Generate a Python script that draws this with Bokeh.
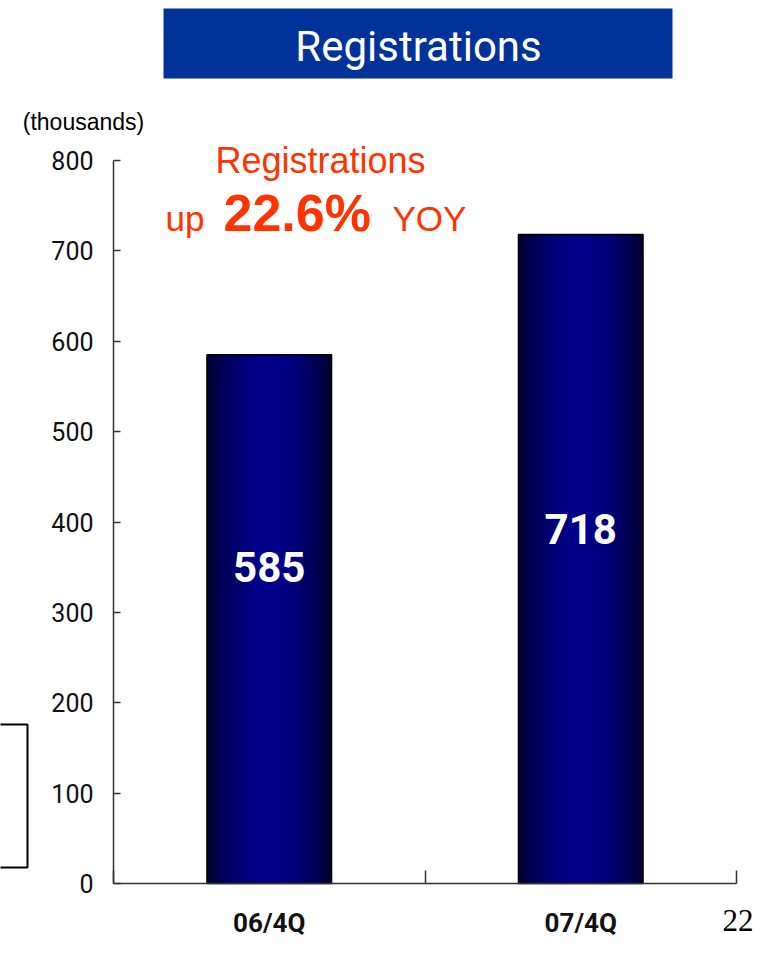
import math
from bokeh.plotting import figure
from bokeh.models import FixedTicker, Label, BoxAnnotation, Range1d
from bokeh.embed import file_html
from bokeh.resources import INLINE

# ---- data ----
categories = ["06/4Q", "07/4Q"]
registrations = [585, 718]
label_heights = [350, 392]
y_ticks = [0, 100, 200, 300, 400, 500, 600, 700, 800]
yoy_pct = "22.6%"

NARROW = "Roboto"
ARIAL = "'Liberation Sans', Arial, sans-serif"
RED = "#ff3300"

W, H = 760, 940
# where the axes sit on the canvas (pixels)
AX_L, AX_R, AX_T, AX_B = 113, 736, 160, 883
XU = (AX_R - AX_L) / 2.0      # px per category unit
YU = (AX_B - AX_T) / 800.0    # px per thousand

def px(x):
    return (x - AX_L) / XU

def py(y):
    return (AX_B - y) / YU

p = figure(width=W, height=H, output_backend="svg", toolbar_location=None,
           x_range=Range1d(px(0), px(W)), y_range=Range1d(py(H), py(0)),
           min_border=0, outline_line_color=None)
p.grid.visible = False
p.background_fill_color = "white"
p.border_fill_color = "white"

centers = [i + 0.5 for i in range(len(categories))]
bar_w = 0.40

# gradient bars: nested bars, widest/darkest first
N = 36
for k in range(N):
    d = 1.0 - k / N
    b = int(48 + (140 - 48) * max(0.0, math.cos(math.pi / 2 * d)) ** 0.9)
    col = "#%02x%02x%02x" % (0, 0, b)
    p.vbar(x=centers, top=registrations, bottom=0, width=bar_w * d,
           fill_color=col, line_color=None)
p.vbar(x=centers, top=registrations, bottom=0, width=bar_w,
       fill_color=None, line_color="#000000", line_width=1.5)

# value labels
for c, v, h in zip(centers, registrations, label_heights):
    p.add_layout(Label(x=c, y=h, text=str(v), text_align="center",
                       text_baseline="middle", text_color="white",
                       text_font=NARROW, text_font_style="bold",
                       text_font_size="42px"))

# axes, pinned at the data origin
p.yaxis.fixed_location = 0
p.yaxis.bounds = (0, 800)
p.yaxis.ticker = FixedTicker(ticks=y_ticks)
p.yaxis.major_tick_in = 7
p.yaxis.major_tick_out = 0
p.yaxis.minor_tick_in = 0
p.yaxis.minor_tick_out = 0
p.yaxis.axis_line_color = "#333333"
p.yaxis.axis_line_width = 1.5
p.yaxis.major_tick_line_color = "#333333"
p.yaxis.major_tick_line_width = 1.5
p.yaxis.major_label_text_font = NARROW
p.yaxis.major_label_text_font_size = "25px"
p.yaxis.major_label_text_color = "#111111"
p.yaxis.major_label_standoff = 20

p.xaxis.fixed_location = 0
p.xaxis.bounds = (0, 2)
p.xaxis.ticker = FixedTicker(ticks=centers, minor_ticks=[0, 1, 2])
p.xaxis.major_label_overrides = {c: cat for c, cat in zip(centers, categories)}
p.xaxis.major_tick_in = 0
p.xaxis.major_tick_out = 0
p.xaxis.minor_tick_in = 13
p.xaxis.minor_tick_out = 0
p.xaxis.minor_tick_line_color = "#333333"
p.xaxis.minor_tick_line_width = 1.5
p.xaxis.axis_line_color = "#333333"
p.xaxis.axis_line_width = 1.5
p.xaxis.major_label_text_font = NARROW
p.xaxis.major_label_text_font_style = "bold"
p.xaxis.major_label_text_font_size = "26px"
p.xaxis.major_label_text_color = "#111111"
p.xaxis.major_label_standoff = 24

# title banner
p.add_layout(BoxAnnotation(left=px(163), right=px(672), top=py(8), bottom=py(78),
                           fill_color="#003399", fill_alpha=1, line_color=None))
p.add_layout(Label(x=px(418), y=py(46), text="Registrations", text_align="center",
                   text_baseline="middle", text_color="white",
                   text_font="Roboto", text_font_size="42px"))

# units
p.add_layout(Label(x=px(83), y=py(121), text="(thousands)", text_align="center",
                   text_baseline="middle", text_color="#000000",
                   text_font=ARIAL, text_font_size="23px"))

# annotation in red
p.add_layout(Label(x=px(320), y=py(160), text="Registrations", text_align="center",
                   text_baseline="middle", text_color=RED,
                   text_font=ARIAL, text_font_size="36px"))
p.add_layout(Label(x=px(165), y=py(218), text="up", text_align="left",
                   text_baseline="middle", text_color=RED,
                   text_font=ARIAL, text_font_size="35px"))
p.add_layout(Label(x=px(223), y=py(212), text=yoy_pct, text_align="left",
                   text_baseline="middle", text_color=RED,
                   text_font=ARIAL, text_font_style="bold", text_font_size="52px"))
p.add_layout(Label(x=px(392), y=py(218), text="YOY", text_align="left",
                   text_baseline="middle", text_color=RED,
                   text_font=ARIAL, text_font_size="35px"))

# partial box at left edge
p.add_layout(BoxAnnotation(left=px(-40), right=px(27), top=py(724), bottom=py(867),
                           fill_color=None, fill_alpha=0, line_color="#000000",
                           line_alpha=1, line_width=2))

# page number
p.add_layout(Label(x=px(722), y=py(920), text="22", text_align="left",
                   text_baseline="middle", text_color="#000000",
                   text_font="'Liberation Serif', serif", text_font_size="31px"))

open("out.html", "w").write(file_html(p, INLINE))
